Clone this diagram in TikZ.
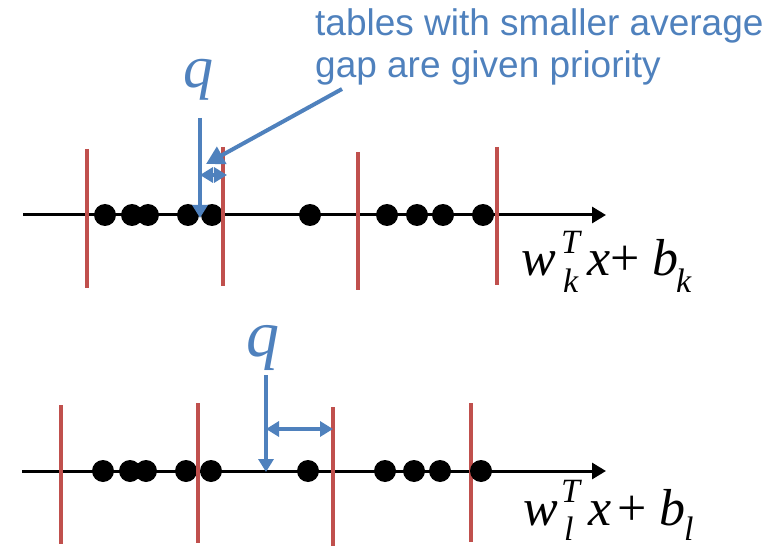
\documentclass[tikz,border=0pt]{standalone}
\usepackage{fontspec}
\setmainfont{Liberation Serif}
\newfontfamily\arialf{Liberation Sans}
\usetikzlibrary{arrows.meta}
\definecolor{bl}{RGB}{79,129,189}
\definecolor{rd}{RGB}{192,80,77}
\begin{document}
\begin{tikzpicture}[x=1pt,y=-1pt,
 dot/.style={circle,fill=black,inner sep=0,minimum size=22pt},
 sep/.style={draw=rd,line width=4pt},
 axis/.style={draw=black,line width=3pt,-{Triangle[length=14pt,width=16pt]}},
 ptr/.style={draw=bl,line width=4pt,-{Triangle[length=13pt,width=15pt]}},
 bigptr/.style={draw=bl,line width=4pt,-{Triangle[length=18pt,width=19pt]}},
 dbl/.style={draw=bl,line width=4pt,{Triangle[length=13pt,width=15pt]}-{Triangle[length=13pt,width=15pt]}},
 lbl/.style={inner sep=0,anchor=base west},
 big/.style={lbl,font=\fontsize{52}{54}\selectfont\itshape},
 sup/.style={lbl,font=\fontsize{34}{36}\selectfont\itshape},
 plus/.style={lbl,font=\fontsize{52}{54}\selectfont},
 note/.style={lbl,text=bl,font=\fontsize{37}{40}\selectfont\arialf},
 qlab/.style={inner sep=0,anchor=base,text=bl},
]
\useasboundingbox (0,0) rectangle (771,548);
% ---------- top axis ----------
\coordinate (a1s) at (23,215);
\coordinate (a1e) at (606,215);
\draw[axis] (a1s) -- (a1e);
\foreach \i/\x in {1/105,2/132,3/148,4/188,5/212,6/310,7/387,8/417,9/443,10/483}
  \node[dot] (t\i) at (\x,215) {};
\draw[sep] (87,149) -- (87,288);
\draw[sep] (223,147) -- (223,286);
\draw[sep] (358,152) -- (358,290);
\draw[sep] (497,147) -- (497,285);
% q top
\node[qlab,font=\fontsize{60}{62}\selectfont\itshape] (q1) at (198,88) {q};
\coordinate (q1s) at (200,118);
\coordinate (q1e) at (200,218);
\draw[ptr] (q1s) -- (q1e);
\coordinate (d1a) at (200,175);
\coordinate (d1b) at (227,175);
\draw[dbl] (d1a) -- (d1b);
% note
\node[note] (n1) at (315,36) {tables with smaller average};
\node[note] (n2) at (315,78) {gap are given priority};
\coordinate (ns) at (342,89);
\coordinate (ne) at (206,164);
\draw[bigptr] (ns) -- (ne);
% formula top
\node[big] (fw1) at (521,276) {w};
\node[sup] (fT1) at (561,253) {T};
\node[sup] (fk1) at (563,292) {k};
\node[big] (fx1) at (587,276) {x};
\node[plus] (fp1) at (610,276) {+};
\node[big] (fb1) at (652,276) {b};
\node[sup] (fk1b) at (676,292) {k};
% ---------- bottom axis ----------
\coordinate (a2s) at (22,471);
\coordinate (a2e) at (606,471);
\draw[axis] (a2s) -- (a2e);
\foreach \i/\x in {1/103,2/130,3/146,4/186,5/211,6/308,7/385,8/414,9/440}
  \node[dot] (b\i) at (\x,471) {};
\draw[sep] (61,405) -- (61,544);
\draw[sep] (198,403) -- (198,543);
\draw[sep] (333,407) -- (333,546);
\draw[sep] (471,403) -- (471,542);
\node[dot] (b10) at (481,471) {};
% q bottom
\node[qlab,font=\fontsize{66}{68}\selectfont\itshape] (q2) at (263,356) {q};
\coordinate (q2s) at (266,375);
\coordinate (q2e) at (266,472);
\draw[ptr] (q2s) -- (q2e);
\coordinate (d2a) at (266,429);
\coordinate (d2b) at (333,429);
\draw[dbl] (d2a) -- (d2b);
% formula bottom
\node[big] (fw2) at (523,525) {w};
\node[sup] (fT2) at (561,502) {T};
\node[sup] (fl2) at (564,540) {l};
\node[big] (fx2) at (588,525) {x};
\node[plus] (fp2) at (617,525) {+};
\node[big] (fb2) at (659,525) {b};
\node[sup] (fl2b) at (684,540) {l};
\end{tikzpicture}
\end{document}
